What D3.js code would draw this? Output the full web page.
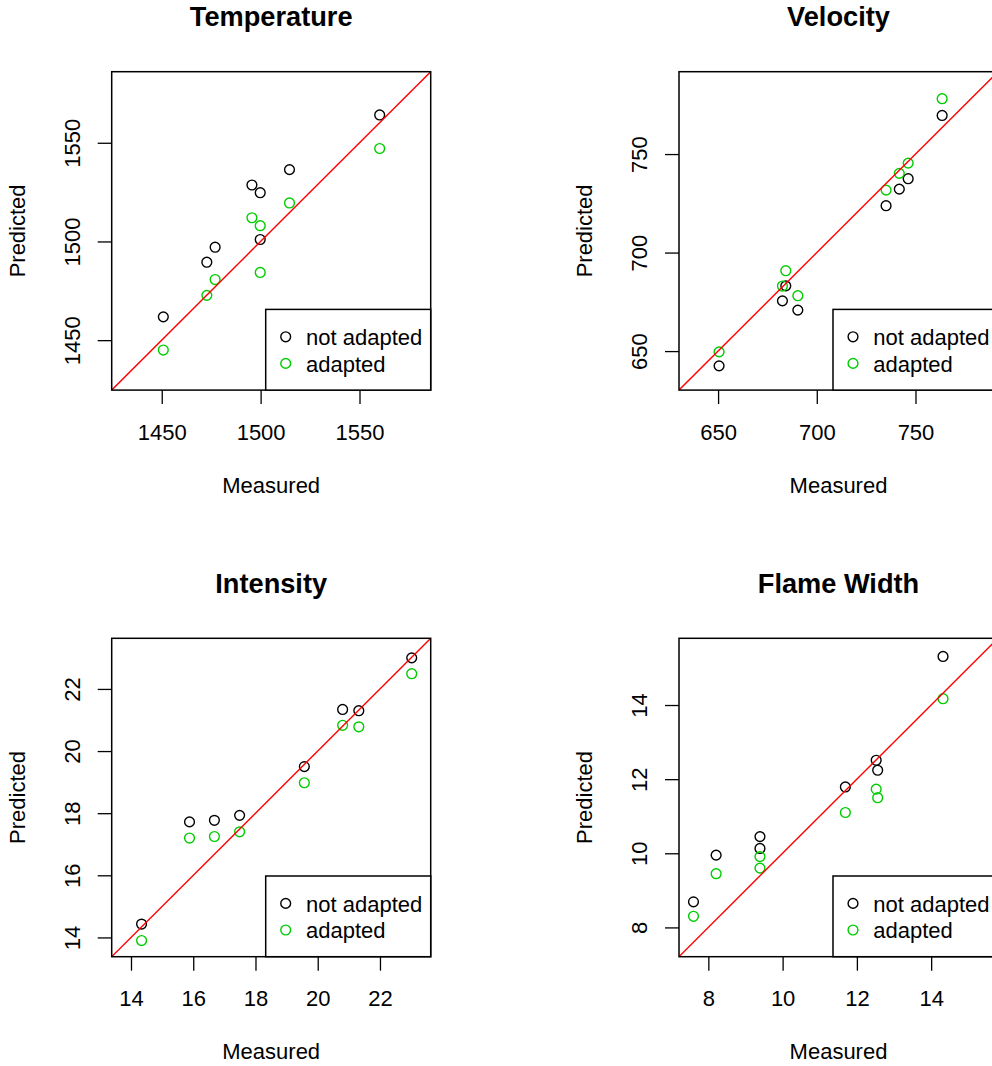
<!DOCTYPE html>
<html>
<head>
<meta charset="utf-8">
<script src="https://cdn.jsdelivr.net/npm/d3@7"></script>
<style>
  html, body { margin: 0; padding: 0; background: #fff; }
  svg { display: block; }
  text { font-family: "Liberation Sans", Arial, Helvetica, sans-serif; }
</style>
</head>
<body>
<script>
// ---- data ----
const panelTitles = ["Temperature", "Velocity", "Intensity", "Flame Width"];
const seriesNames = ["not adapted", "adapted"];
const seriesColors = ["#000000", "#00CD00"];

const tempMeasured   = [1450.8, 1472.8, 1477.0, 1495.6, 1499.8, 1499.8, 1514.6, 1560.2];
const tempNotAdapted = [1461.8, 1489.5, 1497.1, 1528.6, 1524.7, 1501.0, 1536.4, 1564.1];
const tempAdapted    = [1445.0, 1472.7, 1480.7, 1512.0, 1508.0, 1484.3, 1519.5, 1547.1];
const tempTicks = [1450, 1500, 1550];
const tempLimits = [1424.7, 1586.0];

const velMeasured   = [650.5, 682.6, 684.3, 690.4, 735.1, 741.8, 746.3, 763.5];
const velNotAdapted = [642.5, 675.5, 683.1, 670.8, 723.8, 732.2, 737.5, 769.6];
const velAdapted    = [649.6, 683.0, 690.8, 678.1, 731.7, 740.2, 745.4, 778.1];
const velTicks = [650, 700, 750];
const velLimits = [630.2, 791.8];

const intMeasured   = [14.34, 15.88, 16.68, 17.49, 19.57, 20.80, 21.32, 23.02];
const intNotAdapted = [14.43, 17.72, 17.77, 17.93, 19.50, 21.34, 21.30, 23.00];
const intAdapted    = [13.90, 17.20, 17.25, 17.40, 18.98, 20.83, 20.78, 22.49];
const intTicks = [14, 16, 18, 20, 22];
const intLimits = [13.38, 23.63];

const fwMeasured   = [7.60, 8.21, 9.39, 9.39, 11.69, 12.52, 12.56, 14.32];
const fwNotAdapted = [8.69, 9.95, 10.45, 10.13, 11.79, 12.51, 12.24, 15.31];
const fwAdapted    = [8.30, 9.45, 9.91, 9.60, 11.10, 11.73, 11.50, 14.17];
const fwTicks = [8, 10, 12, 14];
const fwLimits = [7.21, 15.80];

const panels = [
  { title: panelTitles[0], measured: tempMeasured, series: [tempNotAdapted, tempAdapted], ticks: tempTicks, lim: tempLimits },
  { title: panelTitles[1], measured: velMeasured,  series: [velNotAdapted,  velAdapted],  ticks: velTicks,  lim: velLimits },
  { title: panelTitles[2], measured: intMeasured,  series: [intNotAdapted,  intAdapted],  ticks: intTicks,  lim: intLimits },
  { title: panelTitles[3], measured: fwMeasured,   series: [fwNotAdapted,   fwAdapted],   ticks: fwTicks,   lim: fwLimits }
];

// ---- layout ----
const W = 992, H = 1066;
const cellW = 567.3, cellH = 566.6;
const boxLeft = 111.7, boxTop = 71.7, boxW = 319, boxH = 318.4;
const FS = 22;

const svg = d3.select("body").append("svg")
  .attr("width", W).attr("height", H)
  .attr("viewBox", `0 0 ${W} ${H}`);

panels.forEach((p, i) => {
  const col = i % 2, row = Math.floor(i / 2);
  const ox = col * cellW + boxLeft;
  const oy = row * cellH + boxTop;

  const g = svg.append("g").attr("transform", `translate(${ox},${oy})`);

  const x = d3.scaleLinear().domain(p.lim).range([0, boxW]);
  const y = d3.scaleLinear().domain(p.lim).range([boxH, 0]);

  const clipId = "clip" + i;
  g.append("clipPath").attr("id", clipId)
    .append("rect").attr("x", 0).attr("y", 0).attr("width", boxW).attr("height", boxH);

  // title
  g.append("text")
    .attr("x", boxW / 2).attr("y", -45.7)
    .attr("text-anchor", "middle")
    .attr("font-size", 27.2).attr("font-weight", "bold")
    .text(p.title);

  // x axis
  const xa = g.append("g").attr("transform", `translate(0,${boxH})`)
    .call(d3.axisBottom(x).tickValues(p.ticks).tickSize(14).tickFormat(d3.format("d")));
  xa.select(".domain").remove();
  xa.attr("font-size", FS).attr("font-family", null);
  xa.selectAll("line").attr("stroke", "#000").attr("stroke-width", 1.3);
  xa.selectAll("text").attr("y", 49.5).attr("dy", null).attr("fill", "#000");

  // y axis
  const ya = g.append("g")
    .call(d3.axisLeft(y).tickValues(p.ticks).tickSize(14).tickFormat(d3.format("d")));
  ya.select(".domain").remove();
  ya.attr("font-size", FS).attr("font-family", null);
  ya.selectAll("line").attr("stroke", "#000").attr("stroke-width", 1.3);
  ya.selectAll("text")
    .attr("x", 0).attr("y", 0).attr("dy", null)
    .attr("text-anchor", "middle")
    .attr("transform", "translate(-31.7,0) rotate(-90)")
    .attr("fill", "#000");

  // axis labels
  g.append("text")
    .attr("x", boxW / 2).attr("y", boxH + 102.5)
    .attr("text-anchor", "middle").attr("font-size", FS)
    .text("Measured");
  g.append("text")
    .attr("transform", `translate(-86.7,${boxH / 2}) rotate(-90)`)
    .attr("text-anchor", "middle").attr("font-size", FS)
    .text("Predicted");

  // points
  const plot = g.append("g").attr("clip-path", `url(#${clipId})`);
  p.series.forEach((s, k) => {
    plot.append("g").selectAll("circle")
      .data(s.map((v, j) => ({ mx: p.measured[j], py: v })))
      .join("circle")
      .attr("cx", d => x(d.mx))
      .attr("cy", d => y(d.py))
      .attr("r", 4.9)
      .attr("fill", "none")
      .attr("stroke", seriesColors[k])
      .attr("stroke-width", 1.4);
  });

  // identity line
  plot.append("line")
    .attr("x1", x(p.lim[0])).attr("y1", y(p.lim[0]))
    .attr("x2", x(p.lim[1])).attr("y2", y(p.lim[1]))
    .attr("stroke", "#FF0000").attr("stroke-width", 1.4);

  // box
  g.append("rect")
    .attr("x", 0).attr("y", 0).attr("width", boxW).attr("height", boxH)
    .attr("fill", "none").attr("stroke", "#000").attr("stroke-width", 1.5);

  // legend (bottom right)
  const lg = g.append("g").attr("transform", `translate(154,${boxH - 80.7})`);
  lg.append("rect")
    .attr("x", 0).attr("y", 0).attr("width", boxW - 154).attr("height", 80.7)
    .attr("fill", "#fff").attr("stroke", "#000").attr("stroke-width", 1.5);
  seriesNames.forEach((name, k) => {
    const cy = 27.4 + k * 26.6;
    lg.append("circle")
      .attr("cx", 20).attr("cy", cy).attr("r", 4.9)
      .attr("fill", "none").attr("stroke", seriesColors[k]).attr("stroke-width", 1.4);
    lg.append("text")
      .attr("x", 40.3).attr("y", cy + 8.3)
      .attr("font-size", FS)
      .text(name);
  });
});
</script>
</body>
</html>
